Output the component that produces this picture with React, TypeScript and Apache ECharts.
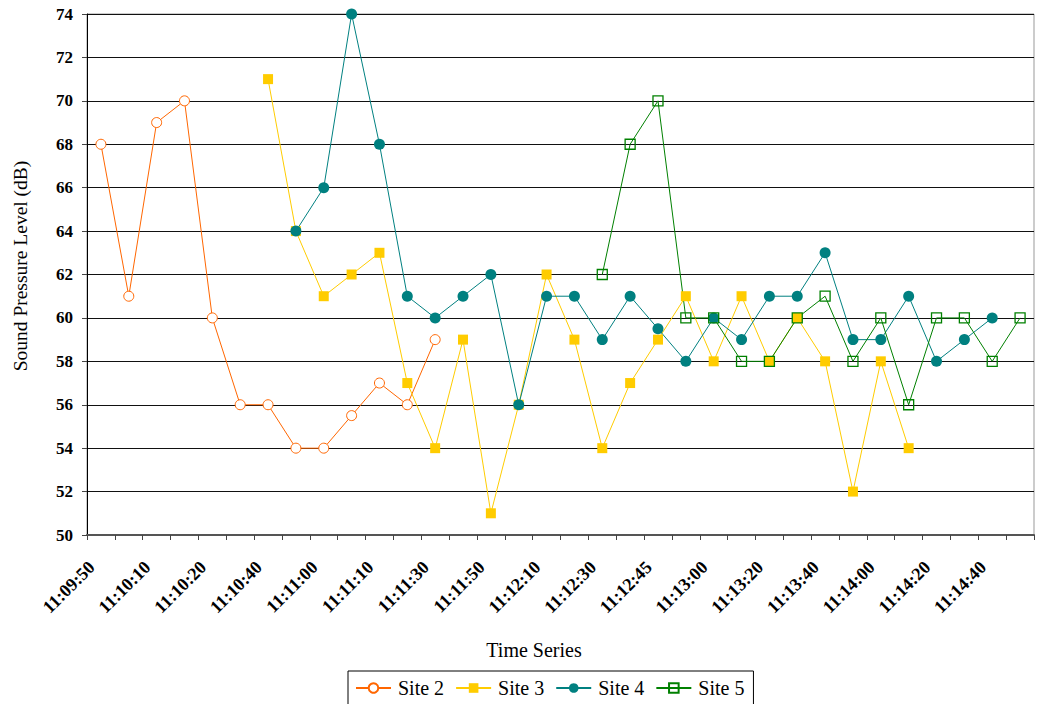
import React, { useEffect, useRef } from "react";
import * as echarts from "echarts";

const categories = [
  "11:09:50", "11:10:00", "11:10:10", "11:10:15", "11:10:20", "11:10:30",
  "11:10:40", "11:10:50", "11:11:00", "11:11:05", "11:11:10", "11:11:20",
  "11:11:30", "11:11:40", "11:11:50", "11:12:00", "11:12:10", "11:12:20",
  "11:12:30", "11:12:40", "11:12:45", "11:12:50", "11:13:00", "11:13:10",
  "11:13:20", "11:13:30", "11:13:40", "11:13:50", "11:14:00", "11:14:10",
  "11:14:20", "11:14:30", "11:14:40", "11:14:50",
];

const site2 = [
  68, 61, 69, 70, 60, 56, 56, 54, 54, 55.5, 57, 56, 59,
  null, null, null, null, null, null, null, null, null, null, null,
  null, null, null, null, null, null, null, null, null, null,
];

const site3 = [
  null, null, null, null, null, null,
  71, 64, 61, 62, 63, 57, 54, 59, 51, 56, 62, 59, 54, 57, 59, 61, 58, 61,
  58, 60, 58, 52, 58, 54,
  null, null, null, null,
];

const site4 = [
  null, null, null, null, null, null, null,
  64, 66, 74, 68, 61, 60, 61, 62, 56, 61, 61, 59, 61, 59.5, 58, 60, 59,
  61, 61, 63, 59, 59, 61, 58, 59, 60,
  null,
];

const site5 = [
  null, null, null, null, null, null, null, null, null, null, null, null,
  null, null, null, null, null, null,
  62, 68, 70, 60, 60, 58, 58, 60, 61, 58, 60, 56, 60, 60, 58, 60,
];

const seriesNames = ["Site 2", "Site 3", "Site 4", "Site 5"];
const yTicks = { min: 50, max: 74, interval: 2 };

const FONT = "'Liberation Serif', 'DejaVu Serif', serif";

export default function App() {
  const ref = useRef<HTMLDivElement>(null);

  useEffect(() => {
    document.body.style.margin = "0";
    if (!ref.current) return;
    const chart = echarts.init(ref.current, undefined, { renderer: "svg" });
    const option: any = {
      animation: false,
      backgroundColor: "#fff",
      grid: {
        left: 87,
        right: 3,
        top: 14,
        bottom: 169,
        show: true,
        borderColor: "#999",
        borderWidth: 1,
      },
      graphic: [
        {
          type: "text",
          x: 20,
          y: 266,
          rotation: Math.PI / 2,
          style: {
            text: "Sound Pressure Level (dB)",
            font: `19.5px ${FONT}`,
            fill: "#000",
            align: "center",
            verticalAlign: "middle",
          },
        },
        {
          type: "text",
          x: 534,
          y: 650,
          style: {
            text: "Time Series",
            font: `20px ${FONT}`,
            fill: "#000",
            align: "center",
            verticalAlign: "middle",
          },
        },
      ],
      legend: {
        data: seriesNames,
        left: 348,
        top: 671,
        padding: [7, 9, 7, 7],
        borderColor: "#000",
        borderWidth: 1,
        borderRadius: 0,
        itemWidth: 35,
        itemHeight: 12,
        itemGap: 11,
        textStyle: {
          fontFamily: FONT,
          fontSize: 20,
          color: "#000",
          padding: [0, 0, 0, 2],
        },
      },
      xAxis: {
        type: "category",
        data: categories,
        boundaryGap: true,
        axisLine: { lineStyle: { color: "#555", width: 2 } },
        axisTick: {
          show: true,
          interval: 0,
          length: 5,
          lineStyle: { color: "#444", width: 1 },
        },
        axisLabel: {
          interval: 1,
          rotate: 45,
          margin: 20,
          padding: [0, 13, 0, 0],
          fontFamily: FONT,
          fontWeight: "bold",
          fontSize: 18,
          color: "#000",
        },
        splitLine: { show: false },
      },
      yAxis: {
        type: "value",
        min: yTicks.min,
        max: yTicks.max,
        interval: yTicks.interval,
        axisLine: { show: true, lineStyle: { color: "#000", width: 1 } },
        axisTick: { show: true, length: 5, lineStyle: { color: "#444" } },
        axisLabel: {
          margin: 14,
          fontFamily: FONT,
          fontWeight: "bold",
          fontSize: 17,
          color: "#000",
        },
        splitLine: { show: true, lineStyle: { color: "#111", width: 1 } },
      },
      series: [
        {
          name: seriesNames[0],
          type: "line",
          data: site2,
          symbol: "circle",
          symbolSize: 10,
          showAllSymbol: true,
          connectNulls: false,
          lineStyle: { color: "#FF6600", width: 1 },
          itemStyle: { color: "#fff", borderColor: "#FF6600", borderWidth: 1 },
        },
        {
          name: seriesNames[1],
          type: "line",
          data: site3,
          symbol: "rect",
          symbolSize: 10,
          showAllSymbol: true,
          connectNulls: false,
          lineStyle: { color: "#FFCC00", width: 1 },
          itemStyle: { color: "#FFCC00", borderColor: "#FFCC00", borderWidth: 0 },
        },
        {
          name: seriesNames[2],
          type: "line",
          data: site4,
          symbol: "circle",
          symbolSize: 11,
          showAllSymbol: true,
          connectNulls: false,
          lineStyle: { color: "#008080", width: 1 },
          itemStyle: { color: "#008080", borderColor: "#008080", borderWidth: 0 },
        },
        {
          name: seriesNames[3],
          type: "line",
          data: site5,
          symbol: "rect",
          symbolSize: 10,
          showAllSymbol: true,
          connectNulls: false,
          lineStyle: { color: "#008000", width: 1 },
          itemStyle: {
            color: "rgba(0,0,0,0)",
            borderColor: "#008000",
            borderWidth: 1.3,
          },
        },
      ],
    };
    chart.setOption(option);
    return () => chart.dispose();
  }, []);

  return <div ref={ref} style={{ width: 1037, height: 704 }} />;
}
